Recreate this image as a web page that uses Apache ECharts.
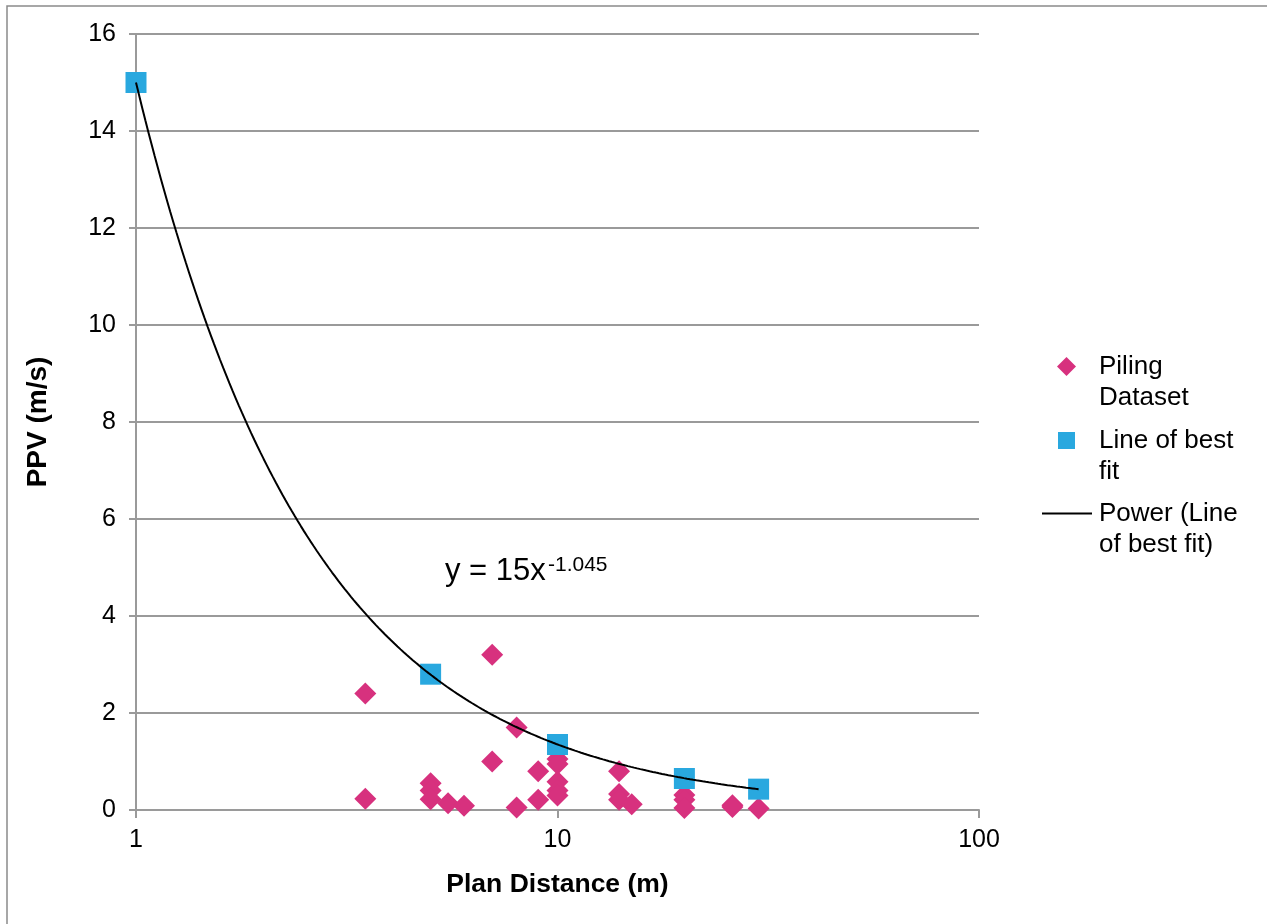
<!DOCTYPE html>
<html>
<head>
<meta charset="utf-8">
<script src="https://cdn.jsdelivr.net/npm/echarts@6/dist/echarts.min.js"></script>
<style>
html,body{margin:0;padding:0;background:#fff;}
#chart{width:1267px;height:924px;}
</style>
</head>
<body>
<div id="chart"></div>
<script>
// Piling dataset (plan distance m, PPV m/s)
const pilingX = [3.5, 3.5, 5, 5, 5, 5.5, 6, 7, 7, 8, 8, 9, 9, 10, 10, 10, 10, 10, 14, 14, 14, 15, 20, 20, 20, 26, 26, 30];
const pilingY = [2.4, 0.23, 0.55, 0.4, 0.22, 0.14, 0.09, 3.2, 1.0, 1.7, 0.05, 0.8, 0.21, 1.05, 0.95, 0.58, 0.4, 0.3, 0.8, 0.33, 0.21, 0.12, 0.31, 0.21, 0.04, 0.1, 0.06, 0.03];
// Line of best fit points
const fitX = [1, 5, 10, 20, 30];
const fitY = [15, 2.8, 1.35, 0.65, 0.43];
// Power trendline coefficients (from the chart's equation label)
const fitA = 15;
const fitB = -1.045;
const trendRange = [1, 30];
// Axis ticks
const yTicks = [0, 2, 4, 6, 8, 10, 12, 14, 16];
const xTicks = [1, 10, 100];

const FONT = '"Liberation Sans", Arial, sans-serif';
const GRID = '#9a9a9a';

const pilingData = pilingX.map((x, i) => [x, pilingY[i]]);
const fitData = fitX.map((x, i) => [x, fitY[i]]);
const trendData = [];
for (let i = 0; i <= 200; i++) {
  const lx = Math.log10(trendRange[0]) + (Math.log10(trendRange[1]) - Math.log10(trendRange[0])) * i / 200;
  const x = Math.pow(10, lx);
  trendData.push([x, fitA * Math.pow(x, fitB)]);
}

// leading empty line keeps the first text line level with the legend icon
const legendNames = {
  'Piling Dataset': '\nPiling\nDataset',
  'Line of best fit': '\nLine of best\nfit',
  'Power (Line of best fit)': '\nPower (Line\nof best fit)'
};
function mkLegend(name, icon, w, h, left, top, padLeft) {
  return {
    data: [{name: name, icon: icon}],
    orient: 'vertical',
    left: left, top: top,
    padding: 0,
    itemWidth: w, itemHeight: h,
    itemGap: 0,
    selectedMode: false,
    formatter: n => legendNames[n],
    textStyle: {fontFamily: FONT, fontSize: 26, lineHeight: 31, color: '#000', padding: [0, 0, 0, padLeft]}
  };
}

const chart = echarts.init(document.getElementById('chart'), null, {renderer: 'canvas'});
chart.setOption({
  backgroundColor: '#fff',
  animation: false,
  grid: {left: 136, right: 288, top: 34, bottom: 114, containLabel: false},
  legend: [
    mkLegend('Piling Dataset', 'diamond', 19, 19, 1057, 320, 18),
    mkLegend('Line of best fit', 'rect', 17, 17, 1058, 394, 19),
    mkLegend('Power (Line of best fit)', 'rect', 50, 2, 1042, 467, 2)
  ],
  xAxis: {
    type: 'log', logBase: 10, min: 1, max: 100,
    name: 'Plan Distance (m)', nameLocation: 'middle', nameGap: 61,
    nameTextStyle: {fontFamily: FONT, fontSize: 26.5, fontWeight: 'bold', color: '#000'},
    axisLine: {show: true, onZero: false, lineStyle: {color: GRID, width: 2}},
    axisTick: {show: true, length: 8, inside: false, lineStyle: {color: GRID, width: 2}},
    minorTick: {show: false},
    splitLine: {show: false},
    axisLabel: {fontFamily: FONT, fontSize: 25, color: '#000', margin: 18,
      formatter: v => (xTicks.indexOf(Math.round(v)) >= 0 ? String(Math.round(v)) : '')}
  },
  yAxis: {
    type: 'value', min: 0, max: 16, interval: 2,
    name: 'PPV (m/s)', nameLocation: 'middle', nameGap: 84,
    nameTextStyle: {fontFamily: FONT, fontSize: 28, fontWeight: 'bold', color: '#000'},
    axisLine: {show: true, lineStyle: {color: GRID, width: 2}},
    axisTick: {show: true, length: 7, lineStyle: {color: GRID, width: 2}},
    splitLine: {show: true, lineStyle: {color: GRID, width: 2}},
    axisLabel: {fontFamily: FONT, fontSize: 25, color: '#000', margin: 20,
      formatter: v => (yTicks.indexOf(v) >= 0 ? String(v) : '')}
  },
  series: [
    {
      name: 'Piling Dataset', type: 'scatter', data: pilingData,
      symbol: 'diamond', symbolSize: 22,
      itemStyle: {color: '#D7317E', opacity: 1}, z: 2
    },
    {
      name: 'Line of best fit', type: 'scatter', data: fitData,
      symbol: 'rect', symbolSize: 21,
      itemStyle: {color: '#29A8DF', opacity: 1}, z: 3
    },
    {
      name: 'Power (Line of best fit)', type: 'line', data: trendData,
      symbol: 'none', showSymbol: false, smooth: false,
      lineStyle: {color: '#000', width: 2}, itemStyle: {color: '#000'}, z: 4
    }
  ],
  graphic: [
    {type: 'rect', z: -10, silent: true,
      shape: {x: 7, y: 6, width: 1300, height: 1000},
      style: {fill: 'none', stroke: '#8a8a8a', lineWidth: 1.5}},
    {type: 'text', left: 445, top: 556, z: 10,
      style: {text: 'y = 15x', font: '31px ' + FONT, fill: '#000'}},
    {type: 'text', left: 548, top: 555, z: 10,
      style: {text: '-1.045', font: '21px ' + FONT, fill: '#000'}}
  ]
});
</script>
</body>
</html>
